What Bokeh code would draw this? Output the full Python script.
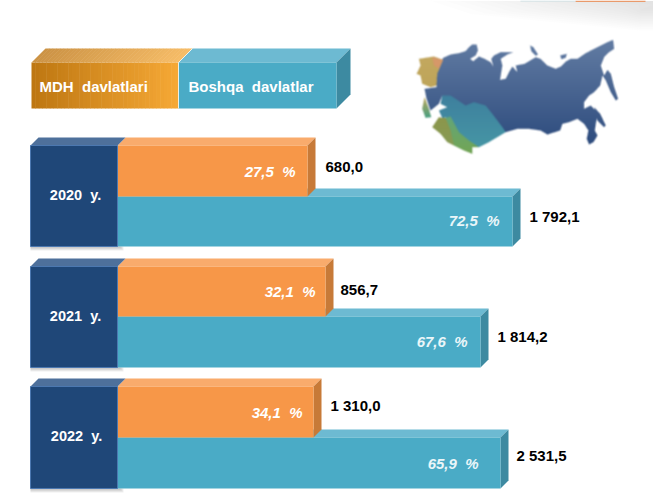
import numpy as np
from bokeh.plotting import figure
from bokeh.models import Range1d
from bokeh.core.properties import value
from bokeh.embed import file_html
from bokeh.resources import INLINE

# ---- data ----
SP = " \u00a0"
years = ["2020" + SP + "y.", "2021" + SP + "y.", "2022" + SP + "y."]
mdh_values = ["680,0", "856,7", "1 310,0"]
other_values = ["1 792,1", "1 814,2", "2 531,5"]
mdh_pct = ["27,5" + SP + "%", "32,1" + SP + "%", "34,1" + SP + "%"]
other_pct = ["72,5" + SP + "%", "67,6" + SP + "%", "65,9" + SP + "%"]
# the reference's bars are not proportional to their labels: drawn lengths as read
mdh_drawn = [190, 208, 196]
other_drawn = [395, 363, 383]
legend_names = ["MDH" + SP + "davlatlari", "Boshqa" + SP + "davlatlar"]

# ---- layout ----
row_top = [145, 266, 386]
row_mid = [196, 316, 437]
row_bot = [246, 367, 488]
x0, x1, D = 30, 117, 8

BLUE, BLUE_TOP, BLUE_EDGE = "#1F4778", "#4E709B", "#4C78B0"
OR, OR_TOP, OR_SIDE = "#F79748", "#F9AB6C", "#C77A38"
TE, TE_TOP, TE_SIDE = "#4AABC6", "#6DBAD2", "#3D8AA1"

p = figure(width=653, height=493, output_backend="svg",
           toolbar_location=None, x_range=Range1d(0, 653), y_range=Range1d(493, 0),
           min_border=0, background_fill_color="white", border_fill_color="white",
           outline_line_color=None)
p.axis.visible = False
p.grid.visible = False


def poly(xs, ys, color, alpha=1.0):
    p.patch(xs, ys, fill_color=color, fill_alpha=alpha, line_color=None)


def lerp(a, b, t):
    ca = [int(a[i:i + 2], 16) for i in (1, 3, 5)]
    cb = [int(b[i:i + 2], 16) for i in (1, 3, 5)]
    return "#%02x%02x%02x" % tuple(round(u + (v - u) * t) for u, v in zip(ca, cb))


# soft grey shade in the top right corner
for i in range(14):
    xl = 430 + i * 14
    yb = 30 - i * 1.6
    poly([xl, 653, 653, 640, xl + 40], [0, 0, yb, yb, yb * 0.45], "#9a9a9a", 0.022)
p.quad(left=[575], right=[645], top=[0], bottom=[1.5], fill_color="#E99A6B", line_color=None)
p.quad(left=[520], right=[575], top=[0], bottom=[1], fill_color="#C9DDE2", line_color=None)

# legend block
lx0, lx1, lx2, ly0, ly1, LD = 31, 178, 336, 62, 108, 14
N = 40
for i in range(N):
    t = i / (N - 1)
    a = lx0 + (lx1 - lx0) * i / N
    b = lx0 + (lx1 - lx0) * (i + 1) / N
    p.quad(left=[a], right=[b + 0.5], top=[ly0], bottom=[ly1], line_color=None,
           fill_color=lerp("#BE7712", "#F5A835", t))
    poly([a + LD, b + LD + 0.5, b + 0.5, a], [ly0 - LD, ly0 - LD, ly0, ly0], lerp("#CC9345", "#F6BC67", t))
poly([lx1, lx2, lx2 + LD, lx1 + LD], [ly0, ly0, ly0 - LD, ly0 - LD], TE_TOP)
poly([lx2, lx2 + LD, lx2 + LD, lx2], [ly0, ly0 - LD, ly1 - LD, ly1], TE_SIDE)
p.quad(left=[lx1], right=[lx2], top=[ly0], bottom=[ly1], fill_color=TE, line_color=None)
p.line([lx1, lx1 + LD], [ly0, ly0 - LD], line_color="white", line_width=0.8)
p.line([lx1, lx1], [ly0, ly1], line_color="white", line_width=0.8)
p.text(x=[39, 188], y=[86, 86], text=legend_names, text_color="white",
       text_font=value("Liberation Sans"), text_font_style="bold", text_font_size="15px",
       text_baseline="middle")

# map picture: outlines traced by eye in 3x crop units, softened like the reference
russia = [(72,175),(108,170),(108,135),(118,95),(128,82),(150,72),(175,68),(195,62),(205,50),(215,42),(228,42),
          (232,60),(225,75),(208,85),(218,92),(235,78),(252,85),(270,95),(278,108),(272,85),(280,75),(300,65),
          (338,65),(320,72),(300,85),(305,105),(298,148),(315,145),(325,125),(335,108),(350,125),(345,105),
          (372,100),(392,88),(405,80),(420,85),(440,105),(465,115),(480,108),(497,92),(510,85),(530,85),(555,68),
          (580,55),(600,45),(620,35),(637,28),(640,55),(625,65),(610,80),(600,105),(610,135),(620,118),(630,130),
          (640,170),(652,205),(645,210),(630,185),(615,150),(605,135),(598,165),(580,185),(565,195),(550,215),
          (550,235),(570,225),(585,240),(590,255),(585,280),(582,300),(590,315),(578,335),(565,342),(558,325),
          (563,300),(550,280),(530,265),(505,275),(485,280),(478,300),(440,312),(420,300),(385,295),(350,295),
          (315,305),(305,290),(275,250),(255,225),(220,215),(195,225),(150,195),(125,195),(115,220),(90,240),(78,205)]
novaya = [(388,45),(398,50),(412,72),(405,76),(392,62)]
severn = [(478,75),(498,70),(495,82),(482,86)]
sakhalin = [(580,230),(598,250),(615,285),(610,290),(590,270)]
kaz = [(125,195),(150,195),(195,225),(220,215),(255,225),(275,250),(305,290),(315,305),(290,320),(265,335),
       (235,350),(205,330),(175,305),(150,260),(125,262),(115,240),(140,230),(120,220)]
uz = [(95,290),(115,260),(125,262),(135,262),(150,300),(160,345),(140,335),(120,310)]
tj = [(135,262),(150,258),(175,305),(205,330),(235,350),(215,350),(215,370),(190,360),(160,345),(150,300)]
bel = [(55,85),(100,78),(128,88),(110,130),(108,165),(90,170),(65,160),(60,135),(48,130),(60,105)]
bal = [(95,80),(128,88),(115,115),(100,105)]
cau = [(72,200),(85,235),(92,260),(75,262),(65,235)]


def inside(poly_pts, X, Y):
    pts = np.array(poly_pts, float)
    x1_, y1_ = pts[:, 0], pts[:, 1]
    x2_, y2_ = np.roll(x1_, -1), np.roll(y1_, -1)
    res = np.zeros(X.shape, bool)
    for a, b, c, d in zip(x1_, y1_, x2_, y2_):
        if b == d:
            continue
        cond = (b > Y) != (d > Y)
        res ^= cond & (X < (c - a) * (Y - b) / (d - b) + a)
    return res


W, H = 760, 390
Y, X = np.mgrid[0:H, 0:W] + 0.5
img = np.zeros((H, W, 4), float)
img[..., :3] = 255


def paint(mask, top, bot, y0, y1):
    t = np.clip((Y - y0) / (y1 - y0), 0, 1)[..., None]
    col = np.array(top, float) * (1 - t) + np.array(bot, float) * t
    img[mask, :3] = col[mask]
    img[mask, 3] = 255


navy_t, navy_b = (98, 124, 163), (46, 76, 126)
for s in (russia, novaya, severn, sakhalin):
    paint(inside(s, X, Y), navy_t, navy_b, 30, 340)
paint(inside(kaz, X, Y), (62, 128, 158), (70, 150, 165), 195, 350)
paint(inside(uz, X, Y), (140, 150, 75), (135, 155, 85), 260, 345)
paint(inside(tj, X, Y), (100, 165, 120), (115, 165, 85), 258, 370)
paint(inside(bel, X, Y), (195, 168, 95), (190, 165, 90), 80, 170)
paint(inside(bal, X, Y), (214, 152, 105), (214, 152, 105), 80, 115)
paint(inside(cau, X, Y), (190, 165, 90), (70, 160, 130), 200, 262)

# box blur to imitate the soft raster
for axis in (0, 1):
    acc = img.copy()
    for off in (-3, -2, -1, 1, 2, 3):
        acc += np.roll(img, off, axis=axis)
    img = acc / 7

rgba = np.zeros((H, W), dtype=np.uint32)
view = rgba.view(dtype=np.uint8).reshape((H, W, 4))
view[...] = np.clip(img, 0, 255).astype(np.uint8)
view[..., 3] = 255
p.image_rgba(image=[rgba], x=[400], y=[30], dw=[W / 3], dh=[H / 3])

# rows
for k in range(3):
    top, mid, bot = row_top[k], row_mid[k], row_bot[k]
    oe, te = x1 + mdh_drawn[k], x1 + other_drawn[k]
    # shadow under the blue block
    for s in range(4):
        p.quad(left=[x0], right=[x1 + 6 - s], top=[bot], bottom=[bot + 4 - s], fill_color="#777777",
               fill_alpha=0.12, line_color=None)
    poly([x1, te, te + D, x1 + D], [mid, mid, mid - D, mid - D], TE_TOP)
    poly([te, te + D, te + D, te], [mid, mid - D, bot - D, bot], TE_SIDE)
    p.quad(left=[x1], right=[te], top=[mid], bottom=[bot], fill_color=TE, line_color=None)
    poly([x1, oe, oe + D, x1 + D], [top, top, top - D, top - D], OR_TOP)
    poly([oe, oe + D, oe + D, oe], [top, top - D, mid - D, mid], OR_SIDE)
    p.quad(left=[x1], right=[oe], top=[top], bottom=[mid], fill_color=OR, line_color=None)
    poly([x0, x1, x1 + D, x0 + D], [top, top, top - D, top - D], BLUE_TOP)
    p.quad(left=[x0], right=[x1], top=[top], bottom=[bot], fill_color=BLUE, line_color=BLUE_EDGE, line_width=1)

text_kw = dict(text_font=value("Liberation Sans"), text_font_style="bold", text_font_size="14.5px",
               text_baseline="middle")
p.text(x=[75, 75, 76], y=[194, 315, 435], text=years, text_color="white", text_align="center", **text_kw)

ital = dict(text_kw, text_font_style="bold italic", text_font_size="15px")
p.text(x=[295, 315, 302], y=[171, 291, 412], text=mdh_pct, text_color="white", text_align="right", **ital)
p.text(x=[499, 467, 478], y=[220, 341, 463], text=other_pct, text_color="#EAF6F9", text_align="right", **ital)

val = dict(text_kw, text_font_size="15px")
p.text(x=[325, 340, 330], y=[166, 289, 405], text=mdh_values, text_color="black", **val)
p.text(x=[529, 497, 516], y=[216, 336, 455], text=other_values, text_color="black", **val)

open("out.html", "w").write(file_html(p, INLINE))
